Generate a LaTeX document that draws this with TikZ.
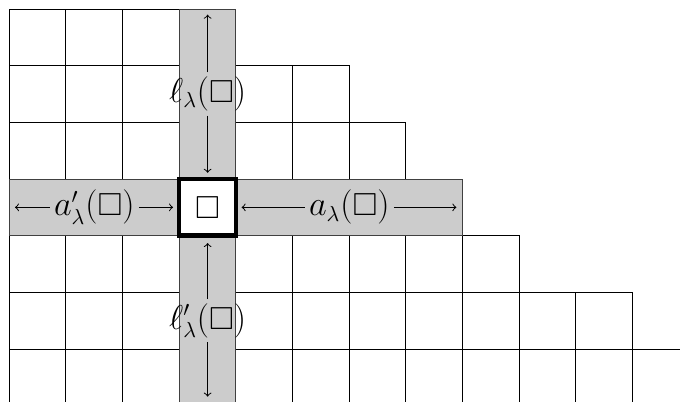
\documentclass[tikz,border=0pt]{standalone}
\usepackage{amssymb}
\begin{document}
\begin{tikzpicture}[x=1cm,y=1cm,
  cell/.style={draw=black, line width=0.5pt},
  strip/.style={fill=black!20, draw=black!75, line width=0.5pt},
  lab/.style={font=\fontsize{16}{19}\selectfont, inner sep=2pt},
  arr/.style={->, line width=0.5pt}]
\useasboundingbox (0,0) rectangle (12,-7.09);
\clip (0,0) rectangle (12,-7.09);
\begin{scope}[shift={(0.164,-0.159)}]
  % grid rows
  \foreach \j/\len in {0/4,1/6,2/7,3/8,4/9,5/11,6/13}{
    \foreach \i in {1,...,\len}{
      \draw[cell] (\i-1,-\j) rectangle (\i,-\j-1);
    }
  }
  % gray strips
  \filldraw[strip] (0,-3) rectangle (8,-4);
  \filldraw[strip] (3,0) rectangle (4,-7.5);
  % marked cell
  \node[draw, line width=2.2pt, fill=white, minimum size=1cm, inner sep=0pt, font=\fontsize{16}{19}\selectfont] (box) at (3.5,-3.5) {$\square$};
  % labels
  \node[lab] (l) at (3.5,-1.5) {$\ell_\lambda(\square)$};
  \node[lab] (lp) at (3.5,-5.5) {$\ell'_\lambda(\square)$};
  \node[lab] (ap) at (1.5,-3.5) {$a'_\lambda(\square)$};
  \node[lab] (a) at (6,-3.5) {$a_\lambda(\square)$};
  % arrow end points
  \coordinate (lt) at (3.5,-0.1);
  \coordinate (lb) at (3.5,-2.89);
  \coordinate (lpt) at (3.5,-4.13);
  \coordinate (lpb) at (3.5,-6.84);
  \coordinate (apl) at (0.1,-3.5);
  \coordinate (apr) at (2.89,-3.5);
  \coordinate (al) at (4.1,-3.5);
  \coordinate (ar) at (7.89,-3.5);
  \draw[arr] (l) -- (lt);
  \draw[arr] (l) -- (lb);
  \draw[arr] (lp) -- (lpt);
  \draw[arr] (lp) -- (lpb);
  \draw[arr] (ap) -- (apl);
  \draw[arr] (ap) -- (apr);
  \draw[arr] (a) -- (al);
  \draw[arr] (a) -- (ar);
\end{scope}
\end{tikzpicture}
\end{document}
